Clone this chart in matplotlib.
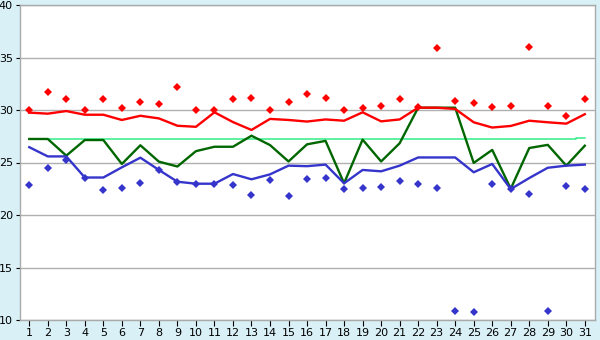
import matplotlib
matplotlib.use("Agg")
import matplotlib.pyplot as plt

days = list(range(1, 32))

red_line = [29.75, 29.65, 29.9, 29.55, 29.55, 29.05, 29.45, 29.2, 28.5, 28.4,
            29.78, 28.85, 28.1, 29.15, 29.05, 28.9, 29.1, 28.98, 29.78, 28.92,
            29.1, 30.22, 30.22, 30.1, 28.83, 28.33, 28.48, 28.98, 28.83, 28.7, 29.6]
green_line = [27.24, 27.24, 25.65, 27.14, 27.14, 24.86, 26.64, 25.08, 24.62, 26.08,
              26.5, 26.5, 27.55, 26.66, 25.1, 26.73, 27.06, 23.02, 27.18, 25.1,
              26.83, 30.22, 30.22, 30.22, 24.96, 26.2, 22.5, 26.38, 26.68, 24.7, 26.6]
blue_line = [26.46, 25.58, 25.58, 23.57, 23.57, 24.54, 25.46, 24.29, 23.17, 22.98,
             22.98, 23.9, 23.4, 23.87, 24.7, 24.65, 24.8, 23.02, 24.29, 24.16,
             24.7, 25.48, 25.48, 25.48, 24.07, 24.86, 22.47, 23.52, 24.5, 24.7, 24.8]
red_pts = [30.0, 31.69, 31.02, 30.0, 31.02, 30.16, 30.73, 30.54, 32.16, 30.0,
           30.0, 31.02, 31.11, 30.0, 30.73, 31.5, 31.1, 30.0, 30.16, 30.35,
           31.02, 30.25, 35.87, 30.83, 30.64, 30.25, 30.35, 35.97, 30.35, 29.4, 31.02]
blue_pts = [22.86, 24.48, 25.27, 23.57, 22.35, 22.54, 23.02, 24.29, 23.17, 22.98,
            22.98, 22.86, 21.9, 23.3, 21.78, 23.4, 23.5, 22.45, 22.54, 22.67,
            23.2, 22.92, 22.54, 10.83, 10.73, 22.92, 22.48, 21.97, 10.83, 22.73, 22.45]
mean_line = [27.24] * 30 + [27.32]

y_ticks = [10, 15, 20, 25, 30, 35, 40]

fig = plt.figure(figsize=(6, 3.4), dpi=100)
fig.patch.set_facecolor("#d9f0f7")
ax = fig.add_axes([20 / 600, 20 / 340, 575 / 600, 315 / 340])
ax.set_facecolor("white")

ax.set_xlim(0.5, 31.55)
ax.set_ylim(10, 40)
ax.set_yticks(y_ticks)
ax.set_xticks(days)
ax.set_xticklabels([str(d) for d in days])
ax.grid(axis="y", color="#b0b0b0", linewidth=1.0)
ax.set_axisbelow(True)

for s in ax.spines.values():
    s.set_color("#aaaaaa")
    s.set_linewidth(1.0)

ax.tick_params(axis="both", labelsize=8, colors="black", length=4, width=0.8, pad=2)
ax.tick_params(axis="y", length=3)

ax.plot(days, mean_line, color="#33ee88", linewidth=1.1, drawstyle="steps-mid", zorder=2)
ax.plot(days, green_line, color="#006600", linewidth=1.7, zorder=3)
ax.plot(days, blue_line, color="#3535cc", linewidth=1.7, zorder=3)
ax.plot(days, red_line, color="#ff0000", linewidth=1.7, zorder=3)
ax.plot(days, red_pts, linestyle="none", marker="D", markersize=3.6,
        color="#ff0000", markeredgewidth=0, zorder=4)
ax.plot(days, blue_pts, linestyle="none", marker="D", markersize=3.6,
        color="#3535cc", markeredgewidth=0, zorder=4)

fig.savefig("out.png", dpi=100, facecolor=fig.get_facecolor())
